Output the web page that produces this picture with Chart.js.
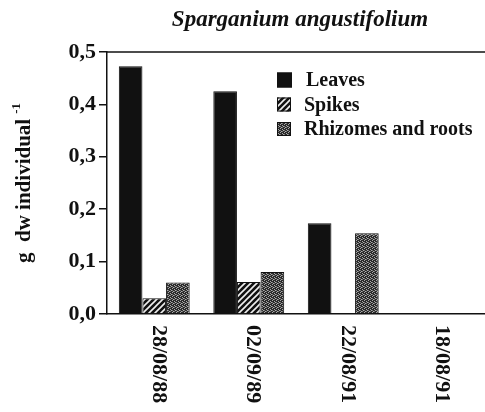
<!DOCTYPE html>
<html>
<head>
<meta charset="utf-8">
<script src="https://cdn.jsdelivr.net/npm/chart.js@4.4.0/dist/chart.umd.min.js"></script>
<style>
  html, body { margin: 0; padding: 0; background: #fff; }
  #wrap { width: 485px; height: 412px; }
</style>
</head>
<body>
<div id="wrap"><canvas id="chart"></canvas></div>
<script>
// données
var dates = ['28/08/88', '02/09/89', '22/08/91', '18/08/91'];
var leaves = [0.473, 0.425, 0.173, 0];
var spikes = [0.030, 0.061, 0, 0];
var rhizomes = [0.060, 0.080, 0.154, 0];
var yTicks = [0, 0.1, 0.2, 0.3, 0.4, 0.5];

var serif = '"Liberation Serif", "Times New Roman", serif';
var ink = '#111';

// motif hachuré pour les épis
function hatchPattern() {
  var c = document.createElement('canvas');
  c.width = 6; c.height = 6;
  var g = c.getContext('2d');
  g.fillStyle = ink;
  g.fillRect(0, 0, 6, 6);
  g.strokeStyle = '#eee';
  g.lineWidth = 1.6;
  g.beginPath();
  g.moveTo(-1, 7); g.lineTo(7, -1);
  g.moveTo(-4, 4); g.lineTo(4, -4);
  g.moveTo(2, 10); g.lineTo(10, 2);
  g.stroke();
  return g.createPattern(c, 'repeat');
}

// motif pointillé pour rhizomes et racines
function dotPattern() {
  var c = document.createElement('canvas');
  c.width = 4; c.height = 4;
  var g = c.getContext('2d');
  g.fillStyle = '#2a2a2a';
  g.fillRect(0, 0, 4, 4);
  g.fillStyle = '#aaa';
  g.fillRect(0, 0, 1, 1);
  g.fillRect(2, 1, 1, 1);
  g.fillRect(1, 3, 1, 1);
  g.fillRect(3, 2, 1, 1);
  g.fillStyle = '#777';
  g.fillRect(2, 3, 1, 1);
  g.fillRect(0, 2, 1, 1);
  return g.createPattern(c, 'repeat');
}

var hatch = hatchPattern();
var dots = dotPattern();

var legendItems = [
  { text: 'Leaves', fill: ink, tx: 306 },
  { text: 'Spikes', fill: hatch, tx: 304 },
  { text: 'Rhizomes and roots', fill: dots, tx: 304 }
];

var decor = {
  id: 'decor',
  afterDraw: function(chart) {
    var ctx = chart.ctx;
    var area = chart.chartArea;
    var x = chart.scales.x;
    ctx.save();

    // ligne du haut
    ctx.strokeStyle = ink;
    ctx.lineWidth = 1.5;
    ctx.beginPath();
    ctx.moveTo(area.left, area.top);
    ctx.lineTo(area.right, area.top);
    ctx.stroke();

    // titre
    ctx.fillStyle = ink;
    ctx.font = 'italic bold 23px ' + serif;
    ctx.textAlign = 'center';
    ctx.textBaseline = 'middle';
    ctx.fillText('Sparganium angustifolium', 300, 20);

    // titre de l'axe y avec exposant
    ctx.font = 'bold 21px ' + serif;
    var main = 'g  dw individual';
    var wMain = ctx.measureText(main).width;
    ctx.font = 'bold 13px ' + serif;
    var wSup = ctx.measureText('-1').width;
    var total = wMain + 5 + wSup;
    ctx.translate(25, 183);
    ctx.rotate(-Math.PI / 2);
    ctx.textAlign = 'left';
    ctx.textBaseline = 'middle';
    ctx.font = 'bold 21px ' + serif;
    ctx.fillText(main, -total / 2, 0);
    ctx.font = 'bold 13px ' + serif;
    ctx.fillText('-1', -total / 2 + wMain + 5, -8);
    ctx.setTransform(1, 0, 0, 1, 0, 0);

    // étiquettes de dates tournées
    ctx.font = 'bold 22px ' + serif;
    ctx.textAlign = 'left';
    ctx.textBaseline = 'middle';
    dates.forEach(function(d, i) {
      var px = x.getPixelForTick(i) + 4;
      ctx.save();
      ctx.translate(px, 325);
      ctx.rotate(Math.PI / 2);
      ctx.fillText(d, 0, 0);
      ctx.restore();
    });

    // légende
    legendItems.forEach(function(it, i) {
      var cy = 80 + i * 24.5;
      var sz = i === 0 ? 15 : 14;
      ctx.fillStyle = it.fill;
      ctx.fillRect(277, cy - sz / 2, sz, sz);
      ctx.strokeStyle = ink;
      ctx.lineWidth = 1;
      ctx.strokeRect(277.5, cy - sz / 2 + 0.5, sz - 1, sz - 1);
      ctx.fillStyle = ink;
      ctx.font = 'bold 20px ' + serif;
      ctx.fillText(it.text, it.tx, cy + 1);
    });
    ctx.restore();
  }
};

var ctx = document.getElementById('chart').getContext('2d');
new Chart(ctx, {
  type: 'bar',
  data: {
    labels: dates,
    datasets: [
      { label: 'Leaves', data: leaves, backgroundColor: ink, borderColor: ink, borderWidth: 1 },
      { label: 'Spikes', data: spikes, backgroundColor: hatch, borderColor: ink, borderWidth: 1 },
      { label: 'Rhizomes and roots', data: rhizomes, backgroundColor: dots, borderColor: ink, borderWidth: 1 }
    ]
  },
  options: {
    responsive: true,
    maintainAspectRatio: false,
    animation: false,
    layout: { padding: { top: 52, left: 0, right: 0, bottom: 0 } },
    datasets: { bar: { categoryPercentage: 0.75, barPercentage: 1 } },
    plugins: {
      legend: { display: false },
      title: { display: false },
      tooltip: { enabled: false }
    },
    scales: {
      x: {
        ticks: { display: false },
        grid: { display: true, drawOnChartArea: false, drawTicks: false },
        border: { display: true, color: ink, width: 1.5 },
        afterFit: function(s) { s.height = 98; }
      },
      y: {
        min: 0,
        max: 0.5,
        afterBuildTicks: function(s) { s.ticks = yTicks.map(function(v) { return { value: v }; }); },
        ticks: {
          color: ink,
          padding: 3,
          font: { family: serif, size: 22, weight: 'bold' },
          callback: function(v) { return v.toFixed(1).replace('.', ','); }
        },
        grid: { drawOnChartArea: false, tickLength: 8, color: ink, lineWidth: 1.5 },
        border: { display: true, color: ink, width: 1.5 },
        afterFit: function(s) { s.width = 107; }
      }
    }
  },
  plugins: [decor]
});
</script>
</body>
</html>
